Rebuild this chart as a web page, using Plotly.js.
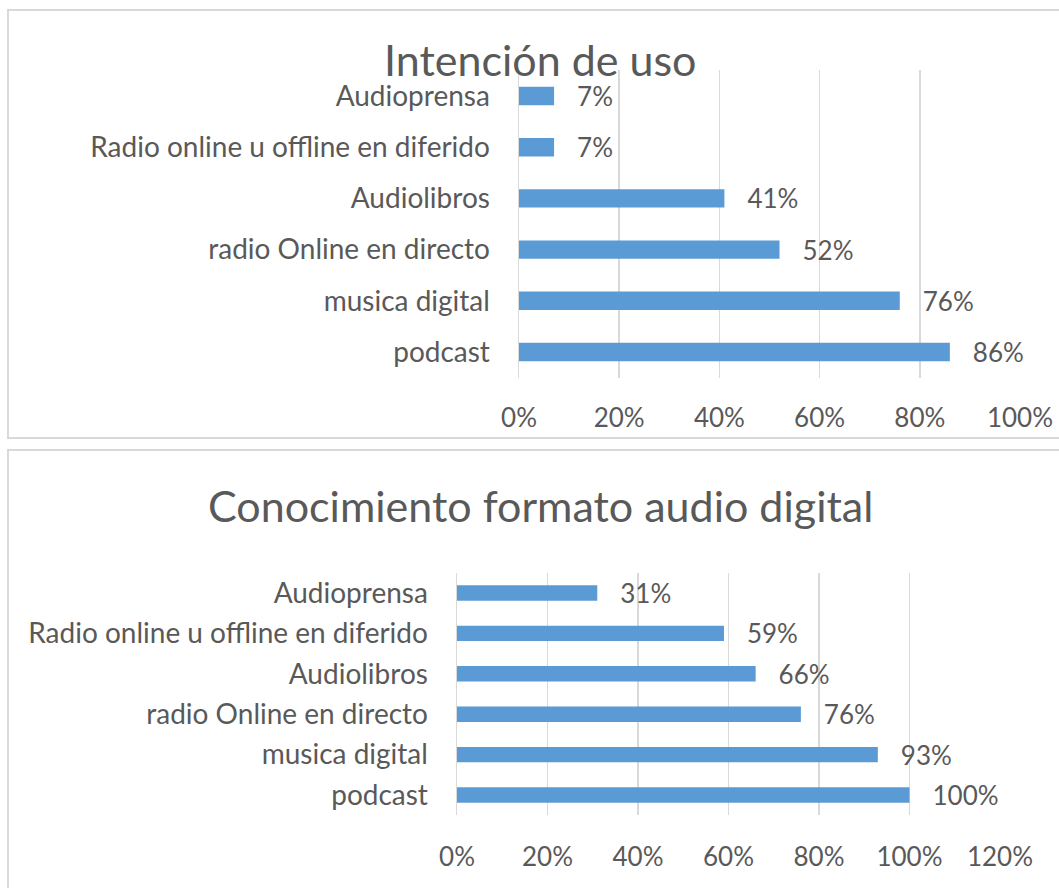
<!DOCTYPE html>
<html>
<head>
<meta charset="utf-8">
<script src="https://cdn.plot.ly/plotly-3.0.1.min.js"></script>
<style>html,body{margin:0;padding:0;background:#fff;}#chart{width:1059px;height:888px;}</style>
</head>
<body>
<div id="chart"></div>
<script>
// Categories listed top to bottom
const categories = [
  "Audioprensa",
  "Radio online u offline en diferido",
  "Audiolibros",
  "radio Online en directo",
  "musica digital",
  "podcast"
];
const intencionValues = [7, 7, 41, 52, 76, 86];
const conocimientoValues = [31, 59, 66, 76, 93, 100];
const title1 = "Intención de uso";
const title2 = "Conocimiento formato audio digital";
const ticks1 = [0, 20, 40, 60, 80, 100];
const ticks2 = [0, 20, 40, 60, 80, 100, 120];

const W = 1059, H = 888;
const px = v => v / W;
const py = v => 1 - v / H;
const txt = "#595959";
const fontFam = "Lato, 'Open Sans', sans-serif";
const barColor = "#5b9bd5";
const numSize = 26;
const catSize = 28;

const traces = [
  {
    type: "bar", orientation: "h",
    x: intencionValues, y: categories,
    xaxis: "x", yaxis: "y",
    marker: {color: barColor},
    width: 0.36,
    text: intencionValues.map(v => "\u00a0\u00a0\u00a0" + v + "%"),
    textposition: "outside",
    constraintext: "none",
    cliponaxis: false,
    textfont: {size: numSize, color: txt, family: fontFam},
    hoverinfo: "none"
  },
  {
    type: "bar", orientation: "h",
    x: conocimientoValues, y: categories,
    xaxis: "x2", yaxis: "y2",
    marker: {color: barColor},
    width: 0.38,
    text: conocimientoValues.map(v => "\u00a0\u00a0\u00a0" + v + "%"),
    textposition: "outside",
    constraintext: "none",
    cliponaxis: false,
    textfont: {size: numSize, color: txt, family: fontFam},
    hoverinfo: "none"
  }
];

const axisCommon = {
  showgrid: true, gridcolor: "#d9d9d9", gridwidth: 1.5,
  zeroline: false, showline: false,
  tickfont: {size: numSize, color: txt, family: fontFam},
  tickmode: "array",
  ticks: "", fixedrange: true
};
const yCommon = {
  type: "category", autorange: "reversed",
  showgrid: false, zeroline: false,
  showline: true, linecolor: "#d9d9d9", linewidth: 1.5,
  ticks: "", ticklabelstandoff: 22,
  tickfont: {size: catSize, color: txt, family: fontFam}
};

const layout = {
  width: W, height: H,
  margin: {l: 0, r: 0, t: 0, b: 0},
  paper_bgcolor: "#fff", plot_bgcolor: "rgba(0,0,0,0)",
  showlegend: false,
  font: {family: fontFam, color: txt},
  xaxis: Object.assign({}, axisCommon, {
    domain: [px(519), px(1020)], range: [0, 100],
    tickvals: ticks1, ticktext: ticks1.map(t => t + "%"),
    anchor: "y", ticklabelstandoff: 22
  }),
  yaxis: Object.assign({}, yCommon, {
    domain: [py(377.6), py(70.4)], anchor: "x"
  }),
  xaxis2: Object.assign({}, axisCommon, {
    domain: [px(457), px(1000)], range: [0, 120],
    tickvals: ticks2, ticktext: ticks2.map(t => t + "%"),
    anchor: "y2", ticklabelstandoff: 24
  }),
  yaxis2: Object.assign({}, yCommon, {
    domain: [py(815.2), py(572.8)], anchor: "x2"
  }),
  shapes: [
    {type: "rect", xref: "paper", yref: "paper",
     x0: px(8), x1: px(1075), y0: py(438), y1: py(10),
     line: {color: "#d9d9d9", width: 2}, fillcolor: "rgba(0,0,0,0)", layer: "below"},
    {type: "rect", xref: "paper", yref: "paper",
     x0: px(8), x1: px(1075), y0: py(905), y1: py(450),
     line: {color: "#d9d9d9", width: 2}, fillcolor: "rgba(0,0,0,0)", layer: "below"}
  ],
  annotations: [
    {text: title1, xref: "paper", yref: "paper", x: px(540), y: py(59),
     xanchor: "center", yanchor: "middle", showarrow: false,
     font: {size: 43, color: txt, family: fontFam}},
    {text: title2, xref: "paper", yref: "paper", x: px(540), y: py(506),
     xanchor: "center", yanchor: "middle", showarrow: false,
     font: {size: 43, color: txt, family: fontFam}}
  ]
};

Plotly.newPlot("chart", traces, layout, {staticPlot: true, displayModeBar: false});
</script>
</body>
</html>
